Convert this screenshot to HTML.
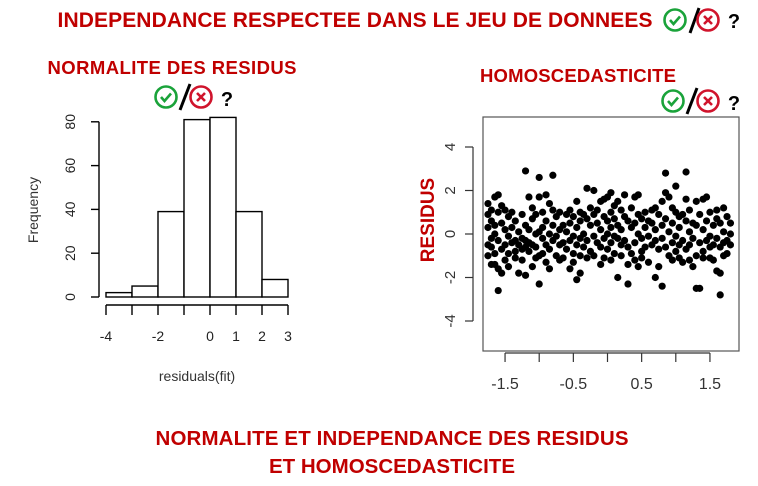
<!DOCTYPE html>
<html><head><meta charset="utf-8"><style>
body{margin:0;background:#fff;width:758px;height:486px;overflow:hidden}
svg{display:block;font-family:"Liberation Sans",Arial,sans-serif}
.rt{fill:#c00000;font-weight:bold}
</style></head><body>
<svg id="s" width="758" height="486" viewBox="0 0 758 486">
<defs>
<g id="ok"><circle r="10.5" fill="none" stroke="#1aa33a" stroke-width="2.6"/><path d="M-5 0 L-1.5 4 L5 -3.5" fill="none" stroke="#1aa33a" stroke-width="2.6"/></g>
<g id="ko"><circle r="10.5" fill="none" stroke="#d0142c" stroke-width="2.6"/><path d="M-4 -4 L4 4 M4 -4 L-4 4" stroke="#d0142c" stroke-width="2.6"/></g>
</defs>
<text class="rt" x="355" y="27" font-size="21" text-anchor="middle" textLength="595">INDEPENDANCE RESPECTEE DANS LE JEU DE DONNEES</text>
<g><use href="#ok" x="675" y="20"/><line x1="699" y1="8" x2="690" y2="33" stroke="#000" stroke-width="3"/><use href="#ko" x="708" y="20"/><text x="734" y="28" font-size="20" font-weight="bold" text-anchor="middle">?</text></g>
<text class="rt" x="172" y="74" font-size="18.5" text-anchor="middle" textLength="249">NORMALITE DES RESIDUS</text>
<g><use href="#ok" x="166" y="97"/><line x1="190" y1="84" x2="180" y2="110" stroke="#000" stroke-width="3"/><use href="#ko" x="201" y="97"/><text x="227" y="106" font-size="20" font-weight="bold" text-anchor="middle">?</text></g>
<text class="rt" x="578" y="82" font-size="18.5" text-anchor="middle" textLength="196">HOMOSCEDASTICITE</text>
<g><use href="#ok" x="673" y="101"/><line x1="697" y1="88" x2="687" y2="114" stroke="#000" stroke-width="3"/><use href="#ko" x="708" y="101"/><text x="734" y="110" font-size="20" font-weight="bold" text-anchor="middle">?</text></g>
<text class="rt" x="392" y="445" font-size="20.5" text-anchor="middle" textLength="473">NORMALITE ET INDEPENDANCE DES RESIDUS</text>
<text class="rt" x="392" y="473" font-size="20.5" text-anchor="middle">ET HOMOSCEDASTICITE</text>
<g id="hist"></g>
<g id="scat"></g>
</svg>
<script>
const binStarts=[-4,-3,-2,-1,0,1,2];
const binCounts=[2,5,39,81,82,39,8];
const histYTicks=[0,20,40,60,80];
const histXTicks=[-4,-3,-2,-1,0,1,2,3];
const histXLabels=["-4","","-2","","0","1","2","3"];
const scatXTicks=[-1.5,-1,-0.5,0,0.5,1,1.5];
const scatXLabels=["-1.5","","-0.5","","0.5","","1.5"];
const scatYTicks=[-4,-2,0,2,4];
const colX=[-1.75,-1.7,-1.65,-1.6,-1.55,-1.5,-1.45,-1.4,-1.35,-1.3,-1.25,-1.2,-1.15,-1.1,-1.05,-1.0,-0.95,-0.9,-0.85,-0.8,-0.75,-0.7,-0.65,-0.6,-0.55,-0.5,-0.45,-0.4,-0.35,-0.3,-0.25,-0.2,-0.15,-0.1,-0.05,0,0.05,0.1,0.15,0.2,0.25,0.3,0.35,0.4,0.45,0.5,0.55,0.6,0.65,0.7,0.75,0.8,0.85,0.9,0.95,1.0,1.05,1.1,1.15,1.2,1.25,1.3,1.35,1.4,1.45,1.5,1.55,1.6,1.65,1.7,1.75,1.8];
const colY=[[1.4,0.9,0.3,-0.5,-1.0],[1.1,0.6,-0.2,-0.6,-1.4],[1.7,0.4,0.0,-0.9,-1.4],[1.8,1.0,-0.3,-1.6,-2.6],[1.3,0.5,-0.7,-1.8],[1.1,0.2,-0.5,-1.2],[0.8,-0.1,-0.9,-1.5],[1.0,0.3,-0.4],[0.6,-0.3,-1.1,-0.8],[0.1,-0.5,-1.8],[0.9,-0.2,-0.7,-1.2],[2.9,0.4,-0.3,-0.6,-1.9],[1.7,0.2,-0.8,-0.4],[1.2,0.7,-0.5,-1.5],[0.9,0.0,-0.6,-1.1],[2.6,1.7,0.1,-1.0,-2.3],[1.0,0.3,-0.2,-0.9],[1.8,0.6,-0.5,-1.3],[1.4,0.0,-0.7,-1.6],[2.7,1.1,0.4,-0.3],[0.8,-0.1,-1.0],[1.0,0.2,-0.5,-1.2],[0.4,-0.4,-1.1],[0.9,0.1,-0.7],[1.1,0.5,-0.3,-1.6],[0.8,-0.1,-0.9,-1.3],[1.5,0.3,-0.5,-2.1],[1.0,0.6,-0.2,-1.0,-1.8],[0.9,0.0,-0.6],[2.1,0.7,-0.3,-1.1],[1.2,0.4,-0.8],[2.0,0.9,-0.1,-1.0],[1.1,0.5,-0.4],[1.5,0.2,-0.6,-1.4],[1.6,0.8,-0.2,-1.1],[1.7,0.6,0.0,-0.7],[1.9,1.0,0.3,-0.4,-1.2],[1.3,0.7,-0.1,-0.9],[1.5,0.4,-0.2,-2.0],[1.1,0.2,-0.5,-1.0],[1.8,0.8,-0.3],[0.6,-0.6,-2.3,-1.4],[1.2,0.3,-0.9],[1.7,0.5,-0.4,-1.2],[1.8,0.9,0.0,-1.5],[0.7,-0.2,-0.8,-1.1],[1.0,0.3,-0.6],[0.6,-0.1,-1.3],[1.1,0.5,-0.5],[1.2,0.2,-0.3,-2.0],[0.9,-0.7,-1.5],[1.5,0.4,-0.2,-2.4],[2.8,1.9,0.7,-0.6],[1.7,0.1,-1.0],[1.2,0.5,-0.4,-1.2],[2.2,1.0,-0.1,-0.8],[0.8,0.3,-0.5,-1.1],[0.9,-0.3,-1.3],[2.85,1.6,0.6,-0.7],[1.1,0.1,-0.5,-1.2],[0.5,-0.2,-1.5],[1.5,0.4,-1.0,-2.5],[0.9,-0.4,-2.5],[1.6,0.2,-0.8,-1.1],[1.7,0.6,-0.3],[1.0,-0.1,-0.6,-1.1],[0.4,-0.5,-1.2],[1.1,0.7,-0.2,-1.7],[0.5,-0.6,-2.8,-1.8],[1.2,0.1,-0.4,-1.0],[0.8,-0.3,-0.9],[0.5,0.0,-0.5]];

const NS="http://www.w3.org/2000/svg";
function mk(p,t,a,txt){const e=document.createElementNS(NS,t);for(const k in a)e.setAttribute(k,a[k]);if(txt!==undefined)e.textContent=txt;p.appendChild(e);return e;}

// Histogram
const H=document.getElementById('hist');
const hx=v=>106+(v+4)*26;
const hy=v=>297-v*2.19;
binStarts.forEach((b,i)=>{
  const r=mk(H,'rect',{x:hx(b),y:hy(binCounts[i]),width:26,height:hy(0)-hy(binCounts[i]),fill:'#fff',stroke:'#000','stroke-width':1.4});
  
  
});
const hya=mk(H,'g',{});


mk(hya,'line',{x1:99,x2:99,y1:hy(0),y2:hy(80),stroke:'#000','stroke-width':1.4});
histYTicks.forEach(t=>{
  mk(hya,'line',{x1:91,x2:99,y1:hy(t),y2:hy(t),stroke:'#000','stroke-width':1.4});
  mk(hya,'text',{x:0,y:0,transform:`translate(75,${hy(t)}) rotate(-90)`,'text-anchor':'middle','font-size':14,fill:'#222'},String(t));
});
const hxa=mk(H,'g',{});


mk(hxa,'line',{x1:hx(-4),x2:hx(3),y1:305,y2:305,stroke:'#000','stroke-width':1.4});
histXTicks.forEach((t,i)=>{
  mk(hxa,'line',{x1:hx(t),x2:hx(t),y1:305,y2:315,stroke:'#000','stroke-width':1.4});
  mk(hxa,'text',{x:hx(t),y:341,'text-anchor':'middle','font-size':14,fill:'#222'},histXLabels[i]);
});
const hxt=mk(H,'text',{x:197,y:381,'text-anchor':'middle','font-size':14,fill:'#333'},'residuals(fit)');


const hyt=mk(H,'text',{x:0,y:0,transform:'translate(38,210) rotate(-90)','text-anchor':'middle','font-size':14,fill:'#333'},'Frequency');



// Scatter
const S=document.getElementById('scat');
const sx=v=>607.5+v*68.3;
const sy=v=>234-v*21.75;
mk(S,'rect',{x:483,y:117,width:256,height:234,fill:'none',stroke:'#555','stroke-width':1.2});
const sya=mk(S,'g',{});


mk(sya,'line',{x1:473,x2:473,y1:sy(4),y2:sy(-4),stroke:'#333','stroke-width':1.2});
scatYTicks.forEach(t=>{
  mk(sya,'line',{x1:465,x2:473,y1:sy(t),y2:sy(t),stroke:'#333','stroke-width':1.2});
  mk(sya,'text',{x:0,y:0,transform:`translate(455,${sy(t)}) rotate(-90)`,'text-anchor':'middle','font-size':15,fill:'#333'},String(t));
});
const sxa=mk(S,'g',{});


mk(sxa,'line',{x1:sx(-1.5),x2:sx(1.5),y1:353,y2:353,stroke:'#333','stroke-width':1.2});
scatXTicks.forEach((t,i)=>{
  mk(sxa,'line',{x1:sx(t),x2:sx(t),y1:353,y2:362,stroke:'#333','stroke-width':1.2});
  mk(sxa,'text',{x:sx(t),y:389,'text-anchor':'middle','font-size':16,fill:'#333'},scatXLabels[i]);
});
const syt=mk(S,'text',{x:0,y:0,transform:'translate(434,220) rotate(-90)','text-anchor':'middle','font-size':19,class:'rt'},'RESIDUS');


const pts=mk(S,'g',{});


colX.forEach((x,i)=>{
  colY[i].forEach(y=>{
    const c=mk(pts,'circle',{cx:sx(x),cy:sy(y),r:3.6,fill:'#000'});
    
    
  });
});
</script>
</body></html>
